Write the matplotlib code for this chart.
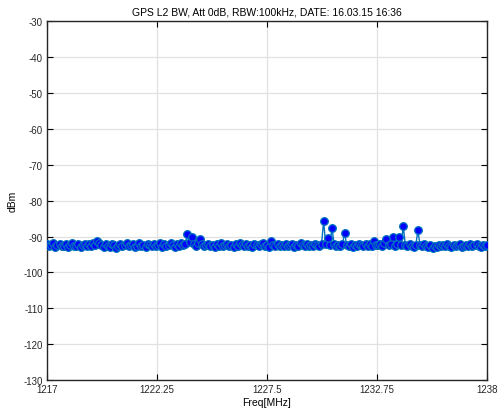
import numpy as np
import matplotlib
matplotlib.use("Agg")
import matplotlib.pyplot as plt

plt.rcParams['font.family'] = ['Liberation Sans', 'DejaVu Sans']
plt.rcParams['axes.unicode_minus'] = False

# sweep settings: 1217..1238 MHz, 100 kHz steps
f_start, f_stop, f_step = 1217.0, 1238.0, 0.1
freq = np.round(np.arange(f_start, f_stop + f_step / 2, f_step), 2)

# measured level in dBm, one value per frequency bin
level = [
    -92.1, -92.6, -92.3, -91.9, -92.8, -92.4, -92.0, -92.7, -92.5, -92.2,
    -92.9, -92.3, -91.8, -92.5, -92.6, -92.1, -93.0, -92.4, -92.2, -92.7,
    -92.0, -92.5, -91.7, -92.3, -91.3, -91.8, -92.4, -92.9, -92.2, -92.6,
    -92.8, -92.1, -92.4, -93.1, -92.5, -92.0, -92.6, -92.3, -91.9, -92.7,
    -92.4, -92.2, -92.8, -92.5, -91.8, -92.6, -92.3, -92.9, -92.1, -92.4,
    -92.7, -92.0, -92.5, -92.3, -91.9, -92.8, -92.2, -92.6, -92.4, -91.7,
    -92.3, -92.8, -92.1, -92.5, -91.9, -92.4, -92.0, -89.3, -91.6, -90.2,
    -92.1, -92.5, -91.8, -90.6, -92.2, -92.7, -92.3, -92.0, -92.6, -92.4,
    -92.8, -92.2, -92.5, -91.9, -92.7, -92.3, -92.1, -92.6, -92.4, -93.0,
    -92.2, -92.5, -91.8, -92.4, -92.7, -92.0, -92.6, -92.3, -92.9, -92.1,
    -92.4, -92.7, -92.2, -91.9, -92.5, -92.3, -92.8, -91.2, -92.4, -92.6,
    -92.0, -92.5, -92.3, -92.7, -92.1, -92.6, -92.4, -92.2, -92.8, -92.3,
    -92.5, -91.9, -92.4, -92.6, -92.1, -92.7, -92.3, -92.5, -92.0, -92.4,
    -92.6, -92.2, -85.7, -92.1, -90.3, -92.4, -87.6, -92.0, -92.5, -92.3,
    -92.7, -92.1, -88.9, -92.4, -92.6, -92.2, -92.8, -92.3, -92.5, -92.0,
    -92.4, -92.7, -92.2, -92.5, -92.1, -92.6, -91.1, -92.3, -92.4, -92.0,
    -92.6, -91.7, -90.7, -92.3, -92.1, -90.0, -92.5, -92.2, -90.0, -92.4,
    -87.1, -92.3, -92.6, -92.1, -92.5, -92.8, -92.3, -88.3, -92.4, -92.7,
    -92.2, -92.6, -92.9, -92.4, -93.2, -92.5, -92.8, -92.3, -92.6, -92.4,
    -92.7, -92.2, -92.5, -92.9, -92.3, -92.6, -92.4, -92.1, -92.8, -92.5,
    -92.3, -92.6, -92.2, -92.7, -92.4, -92.1, -92.5, -92.8, -92.3, -92.6,
    -92.4,
]

x_ticks = [1217, 1222.25, 1227.5, 1232.75, 1238]
x_tick_labels = ['1217', '1222.25', '1227.5', '1232.75', '1238']
y_ticks = list(range(-130, -29, 10))

title = 'GPS L2 BW, Att 0dB, RBW:100kHz, DATE: 16.03.15 16:36'

fig = plt.figure(figsize=(4.97, 4.14), dpi=100)
ax = fig.add_axes([0.0946, 0.0797, 0.8854, 0.866])

ax.plot(freq, level, '-o', color='#0072BD', lw=1.0,
        markersize=5.5, markerfacecolor='#0000FF', markeredgecolor='#0072BD',
        markeredgewidth=0.9, zorder=3)

ax.set_xlim(f_start, f_stop)
ax.set_ylim(-130, -30)
ax.set_xticks(x_ticks)
ax.set_xticklabels(x_tick_labels)
ax.set_yticks(y_ticks)

ax.grid(True, color='#e1e1e1', lw=0.9, zorder=0)
ax.tick_params(direction='in', top=True, right=True, length=4, width=0.8,
               labelsize=7, colors='black', labelcolor='#262626', pad=3)
for s in ax.spines.values():
    s.set_linewidth(1.0)
    s.set_color('#262626')

ax.set_title(title, fontsize=7.5, pad=5)
ax.set_xlabel('Freq[MHz]', fontsize=7.5, labelpad=2)
ax.set_ylabel('dBm', fontsize=7.5, labelpad=4)

fig.savefig('out.png', dpi=100)
